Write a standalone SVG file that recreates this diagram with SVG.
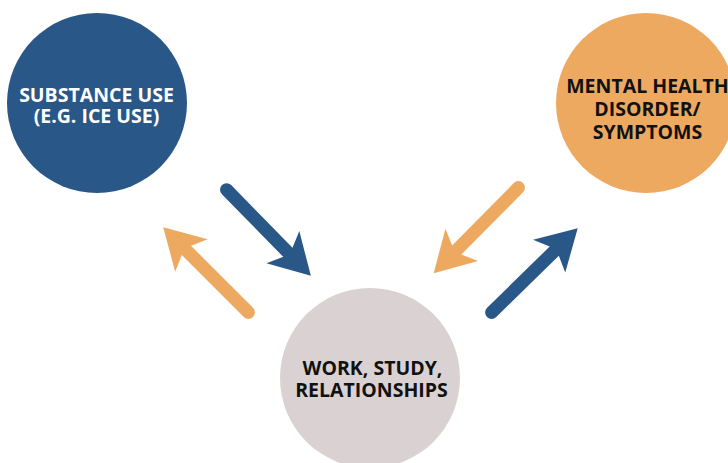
<svg xmlns="http://www.w3.org/2000/svg" xmlns:xlink="http://www.w3.org/1999/xlink" width="728" height="463" viewBox="0 0 728 463">
<style>
.lbl{font-family:"Open Sans","Liberation Sans",sans-serif;font-weight:700;font-size:19.5px;text-anchor:middle}
.w{fill:#ffffff}.d{fill:#111111}
.blue{fill:#295787;stroke:#295787}
.orange{fill:#EEA961;stroke:#EEA961}
</style>
<defs>
<g id="arrow">
<line x1="6.5" y1="0" x2="97" y2="0" stroke-width="13" stroke-linecap="round"/>
<polygon points="127,0 87,-23 97,0 87,23" stroke="none"/>
</g>
</defs>
<g id="node-substance">
<circle cx="97" cy="103" r="90" fill="#295787"/>
<text class="lbl w" x="96.5" y="101.7">SUBSTANCE USE</text>
<text class="lbl w" x="96.5" y="123.3">(E.G. ICE USE)</text>
</g>
<g id="node-mental">
<circle cx="646" cy="103" r="90" fill="#EEA961"/>
<text class="lbl d" x="647.5" y="93.3">MENTAL HEALTH</text>
<text class="lbl d" x="647.5" y="116.3">DISORDER/</text>
<text class="lbl d" x="647.5" y="139">SYMPTOMS</text>
</g>
<g id="node-work">
<circle cx="370" cy="378" r="90" fill="#DAD2D2"/>
<text class="lbl d" x="372.5" y="375">WORK, STUDY,</text>
<text class="lbl d" x="371.5" y="396.5">RELATIONSHIPS</text>
</g>
<g id="connectors">
<use xlink:href="#arrow" class="blue" transform="translate(222,185) rotate(45.6)"/>
<use xlink:href="#arrow" class="orange" transform="translate(253,317) rotate(-135)"/>
<use xlink:href="#arrow" class="orange" transform="translate(523,183) rotate(134.7)"/>
<use xlink:href="#arrow" class="blue" transform="translate(487,317) rotate(-44.4)"/>
</g>
</svg>
